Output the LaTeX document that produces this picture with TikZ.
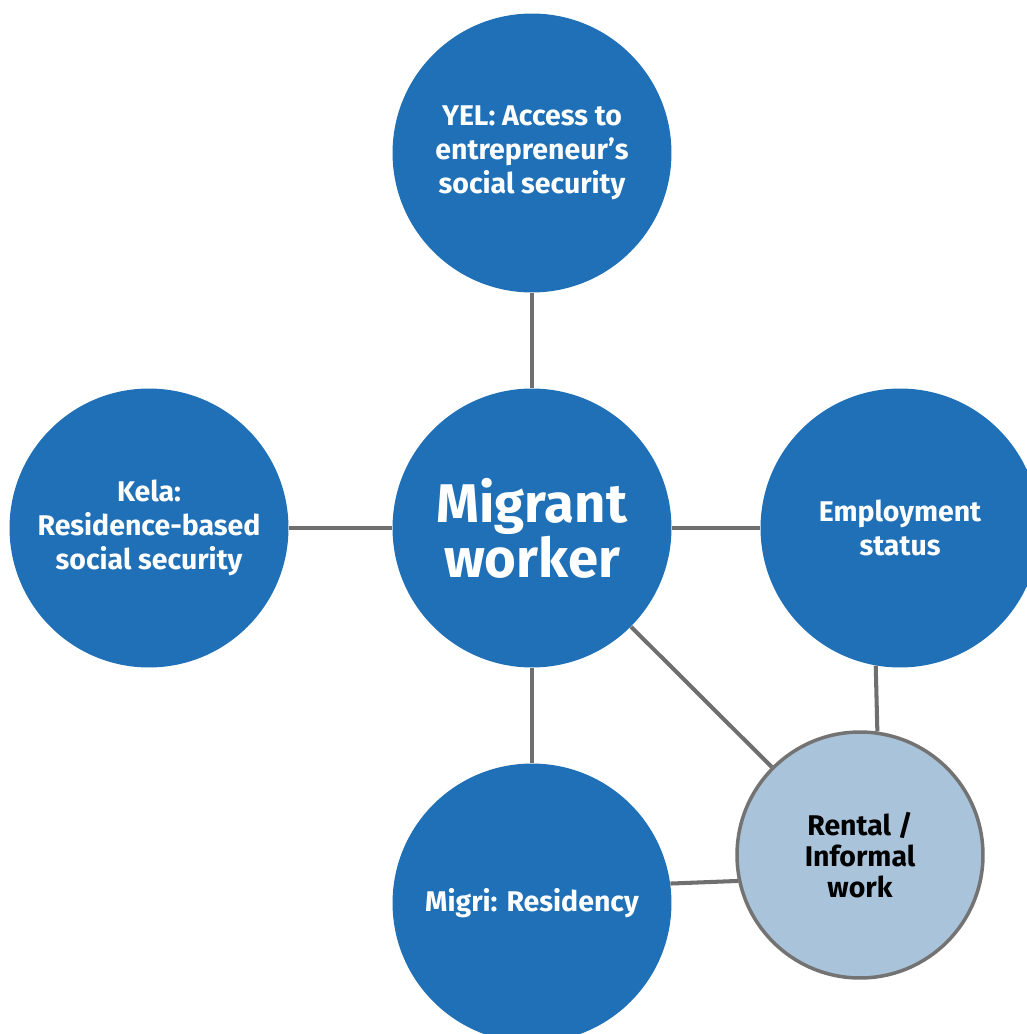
\documentclass[tikz,border=0pt]{standalone}
\usepackage{fontspec}
\setmainfont{Fira Sans}
\usetikzlibrary{positioning}

\definecolor{hubblue}{HTML}{1F70B6}
\definecolor{paleblue}{HTML}{A9C4DA}
\definecolor{linkgray}{HTML}{6F6F6F}

\begin{document}
\begin{tikzpicture}[
    x=0.02cm, y=-0.02cm,
    bubble/.style={
        circle,
        fill=hubblue,
        minimum size=5.58cm,
        inner sep=0pt,
        align=center,
        text=white,
        font=\fontsize{16.2}{19.5}\selectfont\bfseries
    },
    hub/.style={
        bubble,
        font=\fontsize{31}{29}\selectfont\bfseries
    },
    side/.style={
        circle,
        draw=gray!90!black,
        line width=2pt,
        fill=paleblue,
        minimum size=4.92cm,
        inner sep=0pt,
        align=center,
        text=black,
        font=\fontsize{16.2}{17.5}\selectfont\bfseries
    },
    link/.style={
        draw=linkgray,
        line width=2.3pt
    }
]
\useasboundingbox (0,0) rectangle (1027,1034);

% Nodes
\node (worker) [hub]    at (532,528) {Migrant\\worker};
\node (yel)    [bubble] at (532,153) {YEL: Access to\\entrepreneur’s\\social security};
\node (kela)   [bubble] at (149,528) {Kela:\\Residence-based\\social security};
\node (empl)   [bubble] at (900,528) {Employment\\status};
\node (migri)  [bubble] at (532,903) {Migri: Residency};
\node (rental) [side]   at (860,855) {Rental /\\Informal\\work};

% Lines
\draw[link] (yel) -- (worker);
\draw[link] (kela) -- (worker);
\draw[link] (worker) -- (empl);
\draw[link] (worker) -- (migri);
\draw[link] (worker) -- (rental);
\draw[link] (empl.-100) -- (rental.82.6);
\draw[link] (migri.8.6) -- (rental.192.6);

\end{tikzpicture}
\end{document}
